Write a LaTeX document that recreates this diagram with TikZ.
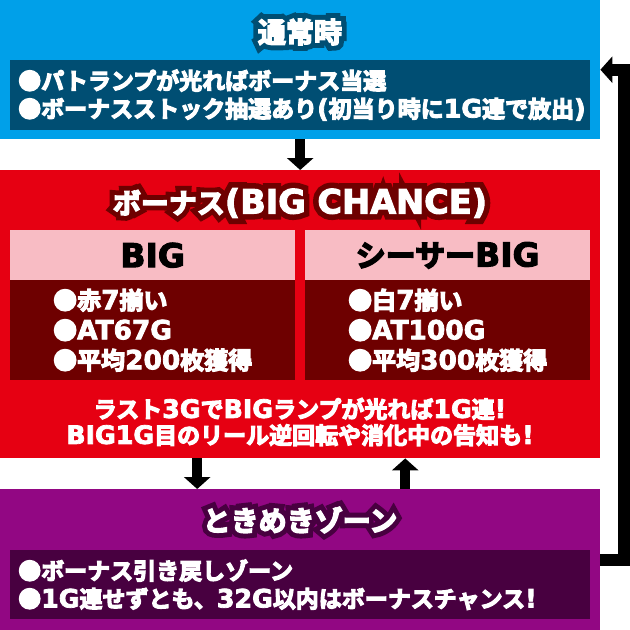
\documentclass[tikz,border=0pt]{standalone}
\usepackage{fontspec}
\setmainfont{Noto Sans CJK JP}[BoldFont={Noto Sans CJK JP Bold}, BoldFeatures={FakeBold=5}]
\newfontfamily\latinfont{DejaVu Sans}[Scale=1.1, BoldFeatures={FakeBold=3}]
% faces for the dark rim of the titles
\newfontfamily\rimfont{Noto Sans CJK JP Bold}[FakeBold=40]
\newfontfamily\rimlatin{DejaVu Sans Bold}[Scale=1.1, FakeBold=36]
\usetikzlibrary{arrows.meta,positioning}

\definecolor{normalblue}{RGB}{0,160,233}
\definecolor{normaldark}{RGB}{0,78,115}
\definecolor{bonusred}{RGB}{230,0,18}
\definecolor{bonuspink}{RGB}{248,188,196}
\definecolor{bonusdark}{RGB}{110,0,0}
\definecolor{zonepurple}{RGB}{146,7,131}
\definecolor{zonedark}{RGB}{72,0,64}

% latin letters and digits in a wider face
\newcommand{\eng}[1]{{\latinfont #1}}
\newcommand{\rimeng}[1]{{\rimlatin #1}}
% title with a dark rim behind the white text
\newcommand{\ringtext}[2]{\makebox[0pt][l]{\color{#1}\mdseries\rimfont\let\eng\rimeng #2}#2}

\begin{document}
\begin{tikzpicture}[x=1pt,y=-1pt]
      \tikzstyle{panel} = [rectangle, anchor=north west, inner sep=0pt, minimum width=600pt]
      \tikzstyle{title} = [text=white, font=\bfseries\fontsize{28}{32}\selectfont]
      \tikzstyle{listbox} = [rectangle, anchor=north west, inner xsep=8pt, inner ysep=0pt, minimum width=580pt, text width=564pt, align=left, text=white, font=\bfseries\fontsize{23}{28}\selectfont]
      \tikzstyle{header} = [rectangle, anchor=north west, inner sep=0pt, fill=bonuspink, minimum width=285pt, minimum height=50pt, font=\bfseries\fontsize{30}{32}\selectfont]
      \tikzstyle{colbox} = [rectangle, anchor=north west, inner sep=0pt, fill=bonusdark, minimum width=285pt, minimum height=100pt, align=left, text=white, font=\bfseries\fontsize{24}{30}\selectfont]
      \tikzstyle{flow} = [line width=10pt, -{Triangle[width=26pt,length=12pt]}]
      \useasboundingbox (0,0) rectangle (630,630);
      % normal mode
      \node (normal) [panel, fill=normalblue, minimum height=139pt] at (0,0) {};
      \node (normaltitle) [title] at (300,32) {\ringtext{normaldark}{通常時}};
      \node (normallist) [listbox, fill=normaldark, minimum height=70pt] at (10,60)
        {●パトランプが光ればボーナス当選\\●ボーナスストック抽選あり\eng{(}初当り時に\eng{1G}連で放出\eng{)}};
      % bonus
      \node (bonus) [panel, fill=bonusred, minimum height=288pt] at (0,170) {};
      \node (bonustitle) [title] at (300,203) {\ringtext{bonusdark}{ボーナス\eng{\fontsize{30.5}{34}\selectfont(BIG CHANCE)}}};
      \node (bighead) [header] at (10,230) {\eng{BIG}};
      \node (bigbody) [colbox] at (10,280) {●赤\eng{7}揃い\\●\eng{AT67G}\\●平均\eng{200}枚獲得};
      \node (sisahead) [header] at (305,230) {シーサー\eng{BIG}};
      \node (sisabody) [colbox] at (305,280) {●白\eng{7}揃い\\●\eng{AT100G}\\●平均\eng{300}枚獲得};
      \node (bonusnote) [align=center, text=white, font=\bfseries\fontsize{23}{26}\selectfont] at (300,422)
        {ラスト\eng{3G}で\eng{BIG}ランプが光れば\eng{1G}連\eng{!}\\\eng{BIG1G}目のリール逆回転や消化中の告知も\eng{!}};
      % tokimeki zone
      \node (zone) [panel, fill=zonepurple, minimum height=141pt] at (0,489) {};
      \node (zonetitle) [title] at (300,520) {\ringtext{zonedark}{ときめきゾーン}};
      \node (zonelist) [listbox, fill=zonedark, minimum height=69pt] at (10,550)
        {●ボーナス引き戻しゾーン\\●\eng{1G}連せずとも、\eng{32G}以内はボーナスチャンス\eng{!}};
      % arrows
      \draw [flow] (normal) -- (bonus);
      \draw [flow] ([xshift=-103pt]bonus.south) -- ([xshift=-103pt]zone.north);
      \draw [flow] ([xshift=105pt]zone.north) -- ([xshift=105pt]bonus.south);
      \draw [flow, line width=12pt] (zone.east) -- ++(24,0) |- (normal.east);
\end{tikzpicture}
\end{document}
